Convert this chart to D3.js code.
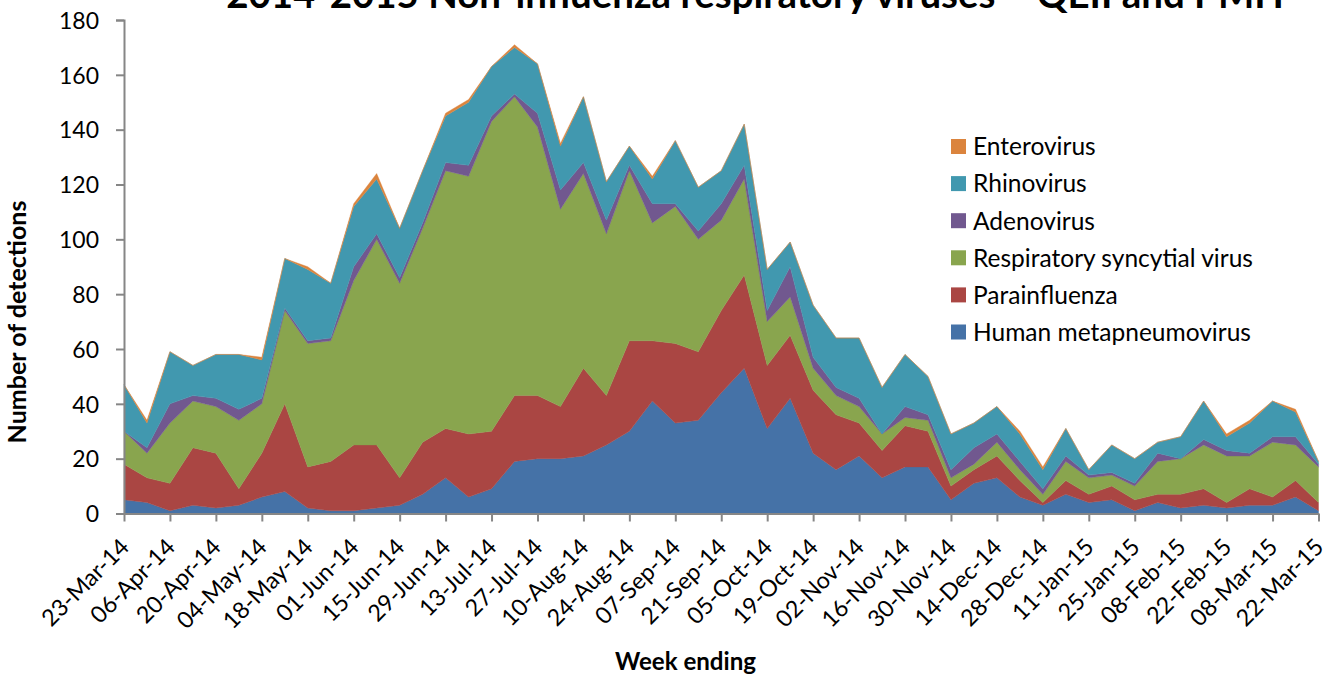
<!DOCTYPE html>
<html>
<head>
<meta charset="utf-8">
<script src="https://cdn.jsdelivr.net/npm/d3@7/dist/d3.min.js"></script>
<style>
  html, body { margin: 0; padding: 0; background: #fff; }
  svg { display: block; }
  text { font-family: Lato, "Open Sans", "Noto Sans", sans-serif; fill: #000; }
</style>
</head>
<body>
<svg id="chart" width="1338" height="675"></svg>
<script>
const weeks = ["23-Mar-14","30-Mar-14","06-Apr-14","13-Apr-14","20-Apr-14","27-Apr-14","04-May-14","11-May-14","18-May-14","25-May-14",
  "01-Jun-14","08-Jun-14","15-Jun-14","22-Jun-14","29-Jun-14","06-Jul-14","13-Jul-14","20-Jul-14","27-Jul-14","03-Aug-14",
  "10-Aug-14","17-Aug-14","24-Aug-14","31-Aug-14","07-Sep-14","14-Sep-14","21-Sep-14","28-Sep-14","05-Oct-14","12-Oct-14",
  "19-Oct-14","26-Oct-14","02-Nov-14","09-Nov-14","16-Nov-14","23-Nov-14","30-Nov-14","07-Dec-14","14-Dec-14","21-Dec-14",
  "28-Dec-14","04-Jan-15","11-Jan-15","18-Jan-15","25-Jan-15","01-Feb-15","08-Feb-15","15-Feb-15","22-Feb-15","01-Mar-15",
  "08-Mar-15","15-Mar-15","22-Mar-15"];

const hmpv   = [5,4,1,3,2,3,6,8,2,1, 1,2,3,7,13,6,9,19,20,20, 21,25,30,41,33,34,44,53,31,42, 22,16,21,13,17,17,5,11,13,6, 3,7,4,5,1,4,2,3,2,3, 3,6,1];
const para   = [13,9,10,21,20,6,16,32,15,18, 24,23,10,19,18,23,21,24,23,19, 32,18,33,22,29,25,30,34,23,23, 23,20,12,10,15,13,5,5,8,6, 1,5,3,5,4,3,5,6,2,6, 3,6,3];
const rsv    = [12,9,22,17,17,25,18,34,45,44, 60,75,71,78,94,94,113,109,98,72, 71,59,62,43,50,41,33,35,16,14, 8,7,6,6,3,4,3,2,5,4, 3,7,6,4,5,12,13,16,17,12, 20,13,13];
const adeno  = [0,2,7,2,3,4,2,1,1,1, 5,2,2,2,3,4,2,1,5,7, 4,5,2,7,1,3,6,5,4,11, 4,3,3,0,4,2,3,6,3,3, 2,2,1,1,1,3,0,2,2,1, 2,3,1];
const rhino  = [17,9,19,11,16,20,14,18,26,20, 22,20,18,19,17,23,18,17,18,16, 24,14,7,9,23,16,12,15,15,9, 19,18,22,17,19,14,13,9,10,10, 7,10,2,10,9,4,8,14,5,11, 13,9,1];
const entero = [0,1,0,0,0,0,1,0,1,0, 1,2,0,0,1,1,0,1,0,1, 0,0,0,1,0,0,0,0,0,0, 0,0,0,0,0,0,0,0,0,1, 1,0,0,0,0,0,0,0,1,1, 0,1,0];

const seriesNames = ["Human metapneumovirus","Parainfluenza","Respiratory syncytial virus","Adenovirus","Rhinovirus","Enterovirus"];
const seriesValues = [hmpv, para, rsv, adeno, rhino, entero];
const seriesColors = ["#4572A7","#AA4643","#89A54E","#71588F","#4198AF","#DB843D"];
const yTicks = [0,20,40,60,80,100,120,140,160,180];
const titleText = "2014-2015 Non-influenza respiratory viruses \u2013 QEII and PMH";

const svg = d3.select("#chart");

// font sizing to mimic Calibri widths
function fitSize(text, target, weight) {
  const t = svg.append("text").attr("font-size", 100).attr("font-weight", weight || "normal").text(text);
  const w = t.node().getComputedTextLength();
  t.remove();
  return 100 * target / w;
}
const tickFont = fitSize("23-Mar-14", 112);
const yTickFont = fitSize("180", 40);
const legendFont = fitSize("Respiratory syncytial virus", 280);
const titleFont = fitSize(titleText, 1058, "bold");
const yTitleFont = fitSize("Number of detections", 243, "bold");
const xTitleFont = fitSize("Week ending", 141, "bold");

const x = d3.scalePoint().domain(weeks).range([124, 1318.5]);
const y = d3.scaleLinear().domain([0, 180]).range([513.5, 20]);

const table = weeks.map((w, i) => {
  const row = { week: w };
  seriesNames.forEach((n, k) => row[n] = seriesValues[k][i]);
  return row;
});
const stacked = d3.stack().keys(seriesNames)(table);

const area = d3.area()
  .x(d => x(d.data.week))
  .y0(d => y(d[0]))
  .y1(d => y(d[1]))
  .curve(d3.curveLinear);

svg.append("g").selectAll("path")
  .data(stacked)
  .join("path")
  .attr("d", area)
  .attr("fill", (d, i) => seriesColors[i])
  .attr("stroke", (d, i) => seriesColors[i])
  .attr("stroke-width", 0.4);

const axisColor = "#868686";

// Y axis
const yAxis = svg.append("g").attr("transform", "translate(124,0)")
  .call(d3.axisLeft(y).tickValues(yTicks).tickSize(8).tickPadding(17).tickFormat(d3.format("d")));
yAxis.select(".domain").attr("stroke", axisColor).attr("stroke-width", 2);
yAxis.selectAll(".tick line").attr("stroke", axisColor).attr("stroke-width", 2);
yAxis.selectAll(".tick text").attr("font-size", yTickFont).attr("font-family", "Lato, 'Open Sans', sans-serif").attr("fill", "#000").attr("dy", "0.36em");

// X axis
const xAxis = svg.append("g").attr("transform", "translate(0,513.5)")
  .call(d3.axisBottom(x).tickValues(weeks.filter((w, i) => i % 2 === 0)).tickSize(8).tickSizeOuter(0));
xAxis.select(".domain").attr("stroke", axisColor).attr("stroke-width", 2);
xAxis.selectAll(".tick line").attr("stroke", axisColor).attr("stroke-width", 2);
xAxis.selectAll(".tick text")
  .attr("font-size", tickFont)
  .attr("font-family", "Lato, 'Open Sans', sans-serif")
  .attr("fill", "#000")
  .attr("text-anchor", "end")
  .attr("x", 0).attr("y", 0).attr("dy", 0)
  .attr("transform", "translate(6,35) rotate(-45)");

// Titles
svg.append("text")
  .attr("x", 755).attr("y", 8)
  .attr("text-anchor", "middle")
  .attr("font-weight", "bold")
  .attr("font-size", titleFont)
  .text(titleText);

svg.append("text")
  .attr("transform", "translate(26,322) rotate(-90)")
  .attr("text-anchor", "middle")
  .attr("font-weight", "bold")
  .attr("font-size", yTitleFont)
  .text("Number of detections");

svg.append("text")
  .attr("x", 685.5).attr("y", 670)
  .attr("text-anchor", "middle")
  .attr("font-weight", "bold")
  .attr("font-size", xTitleFont)
  .text("Week ending");

// Legend (top to bottom: reverse of stack order)
const legendOrder = seriesNames.map((n, i) => i).reverse();
const legend = svg.append("g");
legendOrder.forEach((si, row) => {
  const cy = 146.5 + row * 37.1;
  legend.append("rect")
    .attr("x", 951).attr("y", cy - 7.5)
    .attr("width", 15).attr("height", 15)
    .attr("fill", seriesColors[si]);
  legend.append("text")
    .attr("x", 973).attr("y", cy)
    .attr("dy", "0.36em")
    .attr("font-size", legendFont)
    .text(seriesNames[si]);
});
</script>
</body>
</html>
